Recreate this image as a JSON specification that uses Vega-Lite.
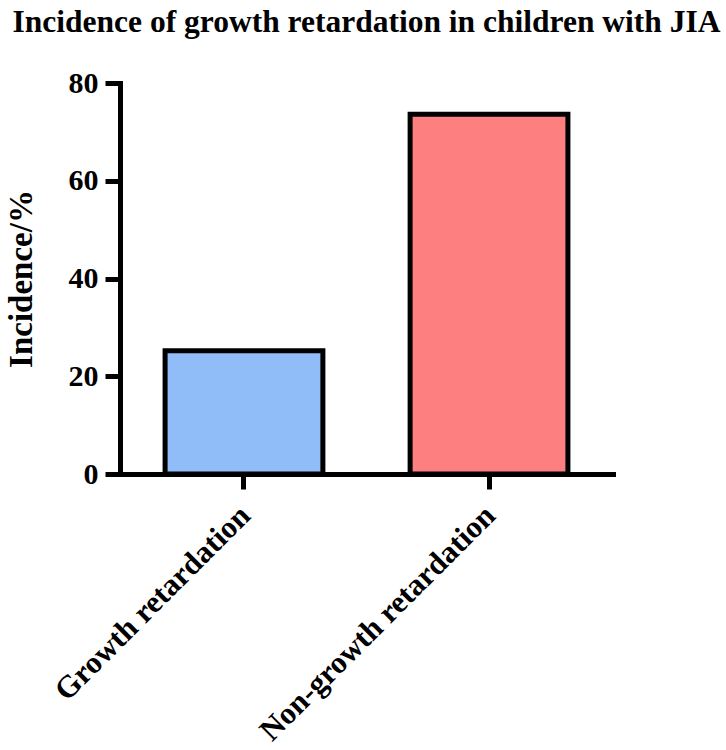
{
  "$schema": "https://vega.github.io/schema/vega-lite/v6.json",
  "autosize": "none",
  "width": 493,
  "height": 391,
  "padding": {"left": 120, "top": 83, "right": 113, "bottom": 276},
  "background": "white",
  "title": {
    "text": "Incidence of growth retardation in children with JIA",
    "font": "Liberation Serif",
    "fontSize": 31.5,
    "fontWeight": "bold",
    "color": "black",
    "anchor": "middle",
    "frame": "group",
    "offset": 30
  },
  "data": {
    "values": [
      {"group": "Growth retardation", "incidence": 25.2},
      {"group": "Non-growth retardation", "incidence": 73.6}
    ]
  },
  "mark": {"type": "bar", "stroke": "black", "strokeWidth": 5},
  "encoding": {
    "x": {
      "field": "group",
      "type": "nominal",
      "sort": null,
      "title": null,
      "scale": {"paddingInner": 0.356, "paddingOuter": 0.184},
      "axis": {
        "labelAngle": -45,
        "labelLimit": 0,
        "labelFont": "Liberation Serif",
        "labelFontSize": 31,
        "labelFontWeight": "bold",
        "labelColor": "black",
        "labelPadding": 11,
        "labelOffset": -9,
        "tickSize": 15,
        "tickWidth": 5,
        "tickColor": "black",
        "domainColor": "black",
        "domainWidth": 5,
        "domainCap": "square"
      }
    },
    "y": {
      "field": "incidence",
      "type": "quantitative",
      "title": "Incidence/%",
      "scale": {"domain": [0, 80], "nice": false},
      "axis": {
        "values": [0, 20, 40, 60, 80],
        "grid": false,
        "labelFont": "Liberation Serif",
        "labelFontSize": 30,
        "labelFontWeight": "bold",
        "labelColor": "black",
        "labelPadding": 7,
        "tickSize": 15,
        "tickWidth": 5,
        "tickColor": "black",
        "domainColor": "black",
        "domainWidth": 5,
        "domainCap": "square",
        "titleFont": "Liberation Serif",
        "titleFontSize": 33,
        "titleFontWeight": "bold",
        "titleColor": "black",
        "titlePadding": 30
      }
    },
    "color": {
      "field": "group",
      "type": "nominal",
      "legend": null,
      "scale": {
        "domain": ["Growth retardation", "Non-growth retardation"],
        "range": ["#90bdf8", "#fe7f80"]
      }
    }
  },
  "config": {"view": {"stroke": null}}
}
